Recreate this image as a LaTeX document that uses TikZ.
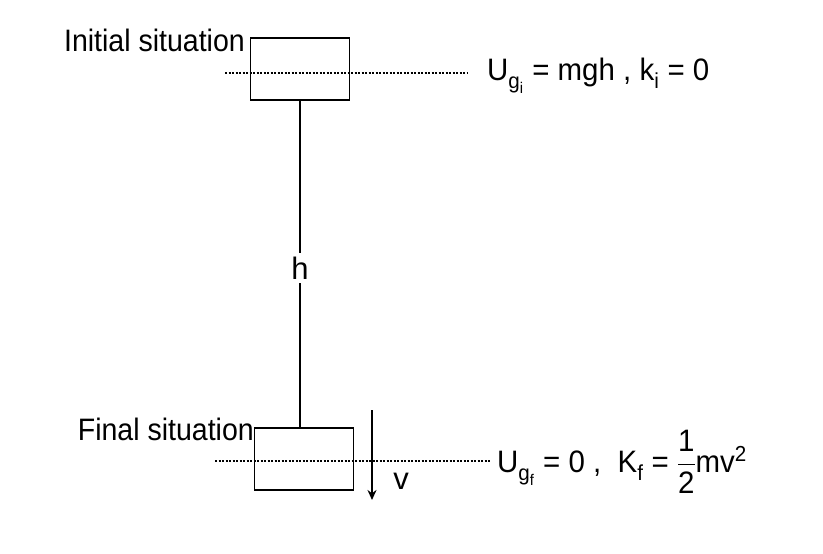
\documentclass[tikz,border=0pt]{standalone}
\usetikzlibrary{arrows.meta}
\usepackage{fontspec}
\setmainfont{Liberation Sans}
\usepackage{unicode-math}
\setmathfont{Latin Modern Math}
\setmathrm{Liberation Sans}
\begin{document}
\begin{tikzpicture}[x=1pt,y=-1pt,
  lbl/.style={inner sep=0pt,font=\fontsize{31}{36}\selectfont},
  blk/.style={draw,line width=1.6pt,minimum width=99pt,minimum height=62pt,inner sep=0pt},
  dots/.style={line width=1.6pt,dash pattern=on 2pt off 1.5pt},
  thk/.style={line width=1.6pt}]
\useasboundingbox (0,0) rectangle (823,554);
\node[blk] (top) at (300,69) {};
\node[blk] (bot) at (304,459) {};
\node[lbl,anchor=south east,xscale=0.92] (init) at (245,52) {Initial situation};
\node[lbl,anchor=south east,xscale=0.92] (fin) at (254,441) {Final situation};
\coordinate (t1) at (225,73); \coordinate (t2) at (468,73);
\draw[dots] (t1) -- (t2);
\coordinate (b1) at (215,461); \coordinate (b2) at (490,461);
\draw[dots] (b1) -- (b2);
\node[lbl,fill=white,inner ysep=4pt] (h) at (300,268) {h};
\draw[thk] (top.south) -- (h.north);
\draw[thk] (h.south) -- (h.south |- bot.north);
\coordinate (a1) at (372,410); \coordinate (a2) at (372,500);
\draw[thk,-{Stealth[length=10pt,width=9pt]}] (a1) -- (a2);
\node[lbl] (v) at (401,481) {v};
\node[lbl,anchor=west,xscale=0.95] (ui) at (487,76) {U$_{\mathrm{g_i}}$ = mgh , k$_{\mathrm{i}}$ = 0};
\node[lbl,anchor=west,xscale=0.95] (uf) at (497,462) {U$_{\mathrm{g_f}}$ = 0 ,\ \ K$_{\mathrm{f}}$ = $\dfrac{\text{1}}{\text{2}}$mv$^{\text{2}}$};
\end{tikzpicture}
\end{document}
